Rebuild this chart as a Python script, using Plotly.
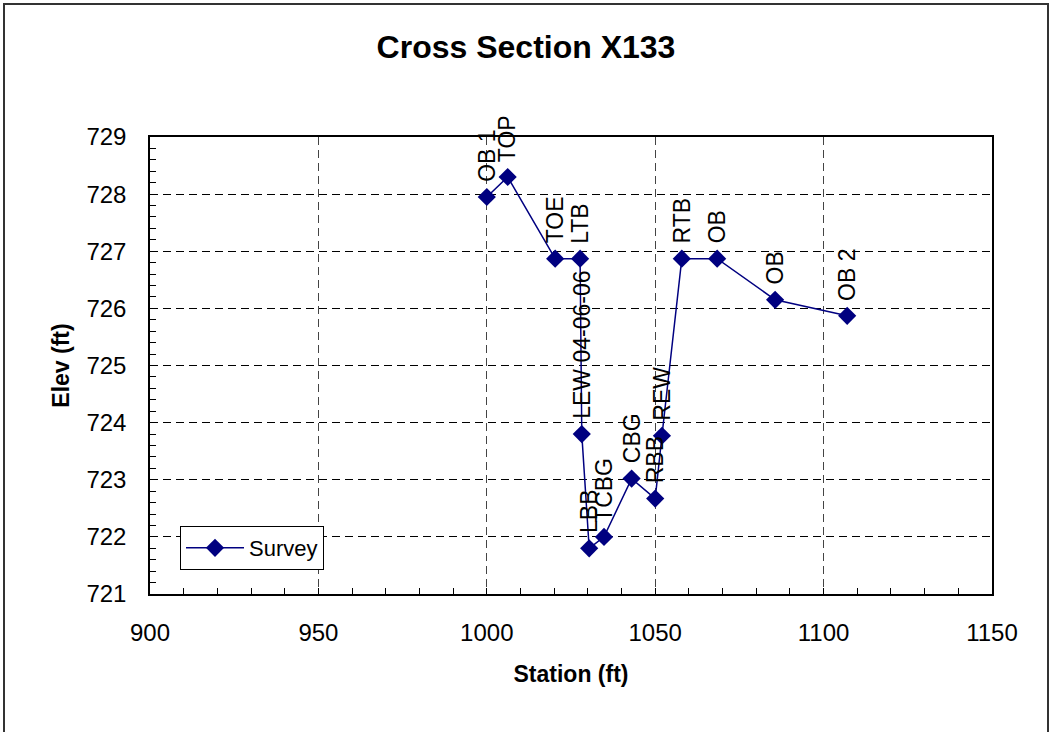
import plotly.graph_objects as go

station = [1000.0, 1006.2, 1020.3, 1027.7, 1028.2, 1030.4, 1034.8, 1043.0, 1050.0, 1052.0, 1057.9, 1068.4, 1085.6, 1107.0]
elev = [727.95, 728.30, 726.87, 726.87, 723.80, 721.80, 722.00, 723.02, 722.67, 723.77, 726.87, 726.87, 726.15, 725.87]
point_labels = ["OB 1", "TOP", "TOE", "LTB", "LEW 04-06-06", "LBB", "TCBG", "CBG", "RBB", "REW", "RTB", "OB", "OB", "OB 2"]

x_ticks = [900, 950, 1000, 1050, 1100, 1150]
y_ticks = [721, 722, 723, 724, 725, 726, 727, 728, 729]

FONT = "Liberation Sans, Arial, sans-serif"
NAVY = "#000080"

fig = go.Figure()
fig.add_trace(go.Scatter(
    x=station, y=elev, mode="lines+markers", name="Survey",
    line=dict(color=NAVY, width=1.5),
    marker=dict(symbol="diamond", size=14, color=NAVY),
))

for xs, ys, lab in zip(station, elev, point_labels):
    fig.add_annotation(x=xs, y=ys, text=lab, showarrow=False, textangle=-90,
                       xanchor="center", yanchor="bottom", yshift=13,
                       font=dict(family=FONT, size=23, color="black"))

fig.update_layout(
    width=1052, height=732,
    paper_bgcolor="white", plot_bgcolor="white",
    margin=dict(l=150, r=60, t=137, b=138),
    title=dict(text="<b>Cross Section X133</b>", x=0.5, xanchor="center",
               xref="container", y=1 - 47 / 732, yanchor="middle",
               font=dict(family=FONT, size=32, color="black")),
    font=dict(family=FONT, size=24, color="black"),
    showlegend=True,
    legend=dict(x=(180 - 150) / 842, y=(594 - 570) / 457, xanchor="left", yanchor="bottom",
                bgcolor="white", bordercolor="black", borderwidth=1, itemwidth=58,
                font=dict(family=FONT, size=22, color="black")),
    xaxis=dict(range=[900, 1150], tickvals=x_ticks, ticks="inside", ticklen=6,
               tickcolor="black", showline=True, linecolor="black", linewidth=1.5, mirror=True,
               showgrid=True, gridcolor="#444444", griddash="8px,5px", gridwidth=1,
               minor=dict(dtick=10, ticks="inside", ticklen=6, tickcolor="black", showgrid=False),
               zeroline=False, ticklabelstandoff=16,
               title=dict(text="<b>Station (ft)</b>", standoff=21,
                          font=dict(family=FONT, size=23, color="black"))),
    yaxis=dict(range=[721, 729], tickvals=y_ticks, ticks="inside", ticklen=6,
               tickcolor="black", showline=True, linecolor="black", linewidth=1.5, mirror=True,
               showgrid=True, gridcolor="black", griddash="8px,5px", gridwidth=1,
               minor=dict(dtick=0.2, ticks="inside", ticklen=6, tickcolor="black", showgrid=False),
               zeroline=False, ticklabelstandoff=17,
               title=dict(text="<b>Elev (ft)</b>", standoff=10,
                          font=dict(family=FONT, size=23, color="black"))),
)

fig.add_shape(type="rect", xref="paper", yref="paper",
              x0=-146 / 842, x1=(1048 - 150) / 842, y0=-0.5, y1=(594 - 4) / 457,
              line=dict(color="#333333", width=2), layer="below")

fig.write_html("out.html", config={"displayModeBar": False},
               post_script="document.body.style.margin='0';")
